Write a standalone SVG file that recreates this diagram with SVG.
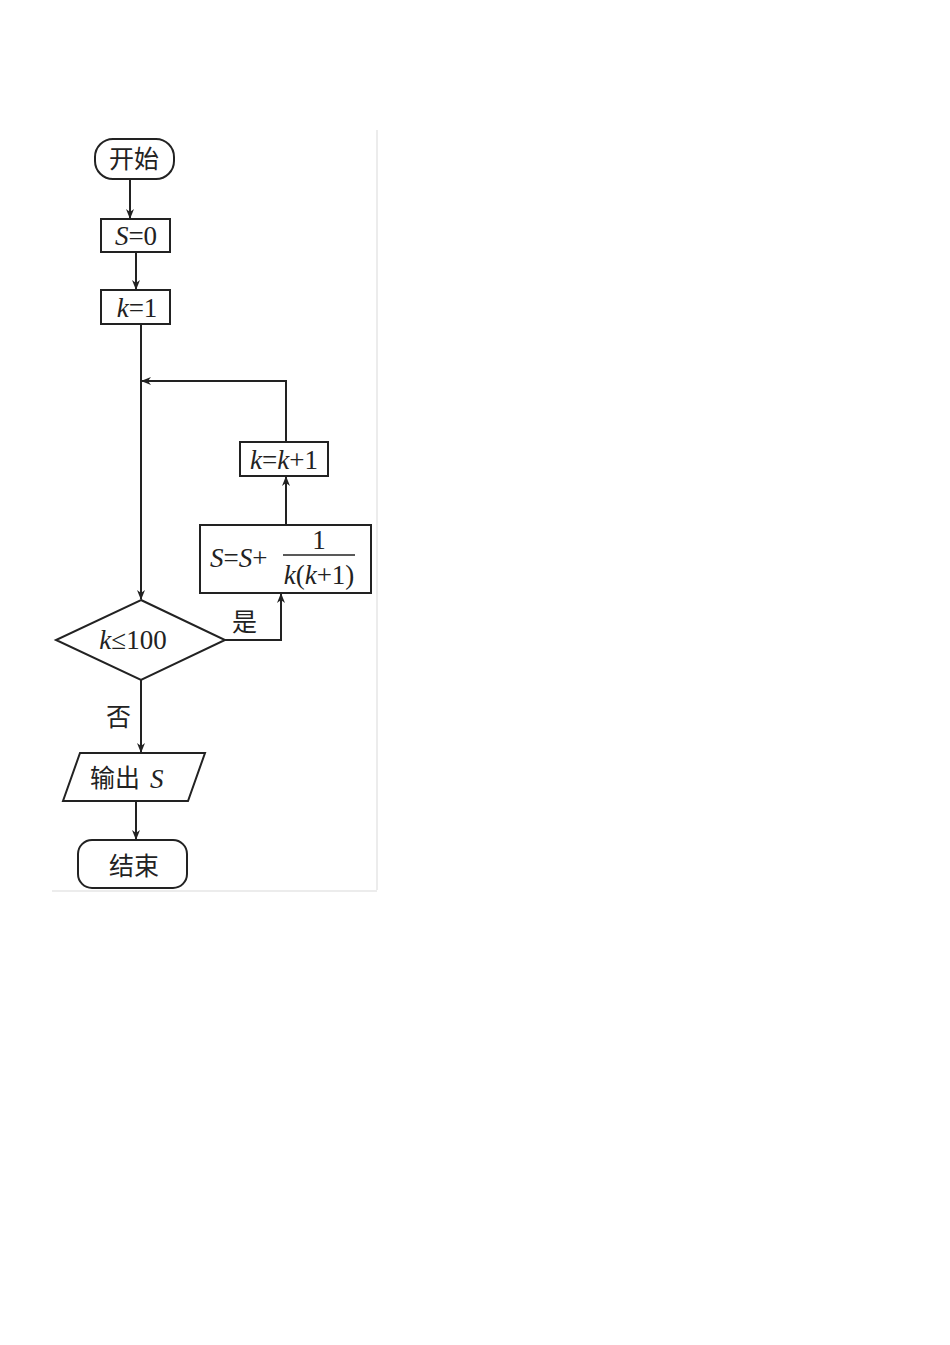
<svg xmlns="http://www.w3.org/2000/svg" width="950" height="1345" viewBox="0 0 950 1345">
<defs><marker id="a" markerWidth="10" markerHeight="10" refX="9" refY="4" orient="auto" markerUnits="userSpaceOnUse"><path d="M0,0 L10,4 L0,8 L3,4 Z" fill="#222"/></marker></defs>
<style>.s{fill:#fff;stroke:#222;stroke-width:2}.c{fill:none;stroke:#222;stroke-width:2}.t{font-family:"Liberation Serif",serif;font-size:27px;fill:#222}.z{font-family:"Noto Sans CJK SC",sans-serif;font-size:25px;fill:#222}</style>
<rect width="950" height="1345" fill="#fff"/>
<line x1="377" y1="130" x2="377" y2="890" stroke="#e6e6e6" stroke-width="1.5"/>
<line x1="52" y1="891" x2="377" y2="891" stroke="#e6e6e6" stroke-width="1.5"/>
<g id="connectors">
<line class="c" x1="130" y1="179" x2="130" y2="218" marker-end="url(#a)"/>
<line class="c" x1="136" y1="252" x2="136" y2="289" marker-end="url(#a)"/>
<line class="c" x1="141" y1="324" x2="141" y2="599" marker-end="url(#a)"/>
<polyline class="c" points="286,442 286,381 142,381" marker-end="url(#a)"/>
<line class="c" x1="286" y1="525" x2="286" y2="477" marker-end="url(#a)"/>
<polyline class="c" points="225,640 281,640 281,594" marker-end="url(#a)"/>
<line class="c" x1="141" y1="680" x2="141" y2="752" marker-end="url(#a)"/>
<line class="c" x1="136" y1="801" x2="136" y2="839" marker-end="url(#a)"/>
<text class="z" x="232" y="631">是</text>
<text class="z" x="106" y="726">否</text>
</g>
<g id="start"><rect class="s" x="95" y="139" width="79" height="40" rx="18"/><text class="z" x="134" y="168" text-anchor="middle">开始</text></g>
<g id="s0"><rect class="s" x="101" y="219" width="69" height="33"/><text class="t" x="136" y="245" text-anchor="middle"><tspan font-style="italic">S</tspan>=0</text></g>
<g id="k1"><rect class="s" x="101" y="290" width="69" height="34"/><text class="t" x="137" y="317" text-anchor="middle"><tspan font-style="italic">k</tspan>=1</text></g>
<g id="kinc"><rect class="s" x="240" y="442" width="88" height="34"/><text class="t" x="284" y="469" text-anchor="middle"><tspan font-style="italic">k</tspan>=<tspan font-style="italic">k</tspan>+1</text></g>
<g id="sum"><rect class="s" x="200" y="525" width="171" height="68"/><text class="t" x="210" y="567"><tspan font-style="italic">S</tspan>=<tspan font-style="italic">S</tspan>+</text><line x1="283" y1="555" x2="355" y2="555" stroke="#222" stroke-width="1.5"/><text class="t" x="319" y="549" text-anchor="middle">1</text><text class="t" x="319" y="584" text-anchor="middle"><tspan font-style="italic">k</tspan>(<tspan font-style="italic">k</tspan>+1)</text></g>
<g id="cond"><polygon class="s" points="141,600 225,640 141,680 56,640"/><text class="t" x="133" y="649" text-anchor="middle"><tspan font-style="italic">k</tspan>≤100</text></g>
<g id="out"><polygon class="s" points="80,753 205,753 188,801 63,801"/><text class="z" x="90" y="787">输出</text><text class="t" x="150" y="788" font-style="italic">S</text></g>
<g id="end"><rect class="s" x="78" y="840" width="109" height="48" rx="14"/><text class="z" x="134" y="875" text-anchor="middle">结束</text></g>
</svg>
